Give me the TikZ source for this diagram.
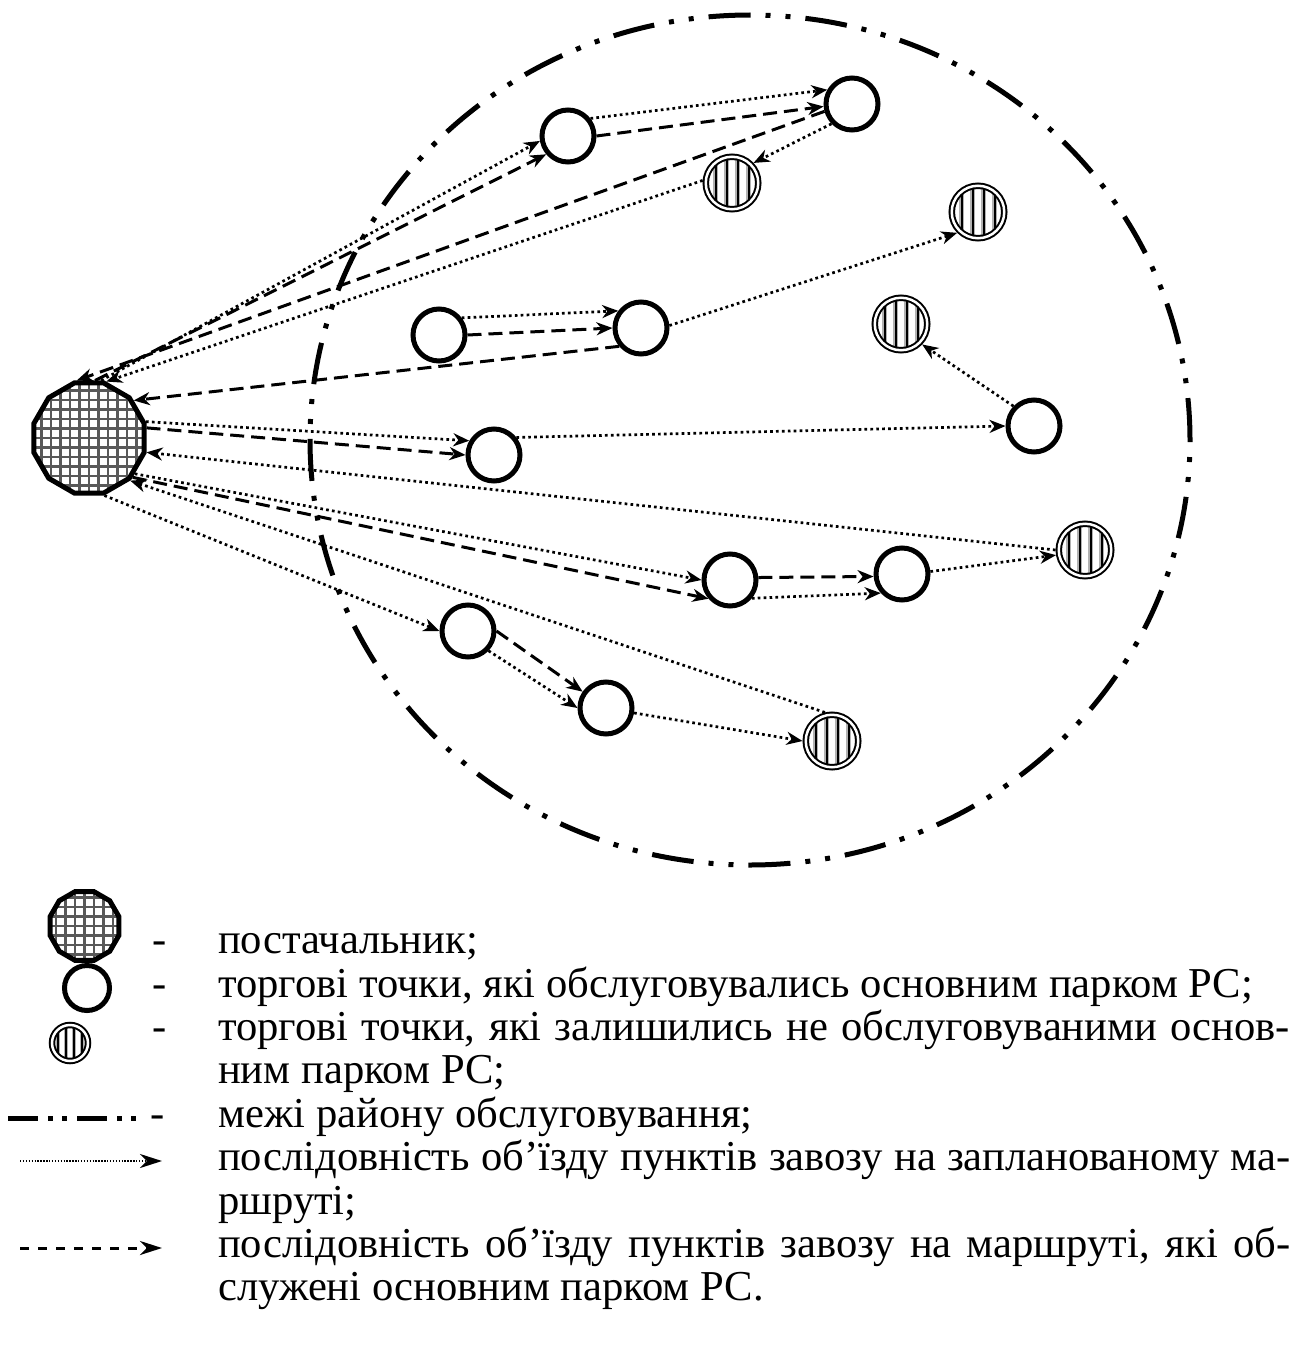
\documentclass[tikz,border=0pt]{standalone}
\usepackage{fontspec}
\setmainfont{Liberation Serif}
\usetikzlibrary{arrows.meta,shapes.geometric}
\begin{document}
\begin{tikzpicture}[x=1pt,y=-1pt,
  gridfill/.style={path picture={
     \foreach \k in {-7,...,7}{
       \draw[black!65,line width=2.4pt]
         ([xshift=\k*9.5pt]path picture bounding box.north) -- ([xshift=\k*9.5pt]path picture bounding box.south);
       \draw[black!65,line width=2.4pt]
         ([yshift=\k*9.5pt]path picture bounding box.west) -- ([yshift=\k*9.5pt]path picture bounding box.east);
     }}},
  supplier/.style={regular polygon, regular polygon sides=12, draw, line width=5pt,
     inner sep=0pt, minimum size=#1, fill=white, gridfill},
  svc/.style={circle, draw, line width=5pt, inner sep=0pt, minimum size=#1, fill=white},
  stripes/.style={path picture={
     \foreach \k in {-1.5,-0.5,0.5,1.5}{
       \draw[black!30,line width=4.5pt]
         ([xshift=\k*#1]path picture bounding box.north) -- ([xshift=\k*#1]path picture bounding box.south);
       \draw[black,line width=2pt]
         ([xshift=\k*#1]path picture bounding box.north) -- ([xshift=\k*#1]path picture bounding box.south);
     }}},
  unsvc/.style 2 args={circle, draw, line width=2pt, double=white, double distance=2.5pt,
     inner sep=0pt, outer sep=3.2pt, minimum size=#1, fill=white, stripes=#2},
  plan/.style={line width=2.7pt, dash pattern=on 2.7pt off 3.2pt,
     -{Stealth[length=16pt,width=13pt,inset=5pt]}},
  fact/.style={line width=3pt, dash pattern=on 14pt off 7pt,
     -{Stealth[length=16pt,width=13pt,inset=5pt]}},
  boundary/.style={line width=5pt, dash pattern=on 42pt off 15pt on 5pt off 15pt on 5pt off 15pt},
  lplan/.style={line width=2.6pt, dash pattern=on 1.4pt off 1.5pt,
     -{Stealth[length=22pt,width=14pt,inset=7pt]}},
  lfact/.style={line width=3pt, dash pattern=on 9pt off 9pt,
     -{Stealth[length=22pt,width=14pt,inset=7pt]}},
  lbound/.style={line width=5pt, dash pattern=on 30pt off 10pt on 5pt off 9pt on 5pt off 10pt},
  txt/.style={anchor=base west, inner sep=0pt, font=\fontsize{42.6}{43.4}\selectfont},
  hy/.style={anchor=base, inner sep=0pt, font=\fontsize{42.6}{43.4}\selectfont}
]
\useasboundingbox (0,0) rectangle (1306,1354);

% service area boundary
\draw[boundary] (750,440) ellipse [x radius=440pt, y radius=425pt];

% nodes
\node[supplier=113.9pt] (S) at (89,438) {};
\node[svc=52pt] (A1) at (568,136) {};
\node[svc=52pt] (A2) at (852,104) {};
\node[svc=52pt] (A3) at (439,335) {};
\node[svc=52pt] (A4) at (641,328) {};
\node[svc=52pt] (A5) at (494,455) {};
\node[svc=52pt] (A6) at (1034,426) {};
\node[svc=52pt] (A7) at (730,580) {};
\node[svc=52pt] (A8) at (902,574) {};
\node[svc=52pt] (A9) at (468,631) {};
\node[svc=52pt] (A10) at (606,708) {};
\node[unsvc={52.5pt}{11pt}] (H1) at (732,183) {};
\node[unsvc={52.5pt}{11pt}] (H2) at (978,212) {};
\node[unsvc={52.5pt}{11pt}] (H3) at (901,324) {};
\node[unsvc={52.5pt}{11pt}] (H4) at (1085,550) {};
\node[unsvc={52.5pt}{11pt}] (H5) at (832,741) {};

% top route
\draw[plan] (S.78) -- (A1.190);
\draw[fact] (S.84) -- (A1.220);
\draw[plan] (A1.38) -- (A2.150);
\draw[fact] (A1.0) -- (A2.185);
\draw[fact] (A2.195) -- (S.102);
\draw[plan] (A2.224) -- (H1.43);
\draw[plan] (H1.175) -- (S.73);

% middle routes
\draw[plan] (A3.37) -- (A4.143);
\draw[fact] (A3.0) -- (A4.180);
\draw[fact] (A4.220) -- (S.40);
\draw[plan] (A4.5) -- (H2.225);
\draw[plan] (S.16) -- (A5.150);
\draw[fact] (S.10) -- (A5.180);
\draw[plan] (A5.38) -- (A6.180);
\draw[plan] (A6.136) -- (H3.-44);
\draw[plan] (H4.180) -- (S.-14);

% lower routes
\draw[plan] (S.-38) -- (A7.180);
\draw[fact] (S.-42) -- (A7.221);
\draw[fact] (A7.5) -- (A8.185);
\draw[plan] (A7.-40) -- (A8.222);
\draw[plan] (A8.5) -- (H4.190);
\draw[plan] (H5.104) -- (S.-46);
\draw[plan] (S.-75) -- (A9.180);
\draw[fact] (A9.0) -- (A10.145);
\draw[plan] (A9.-44) -- (A10.180);
\draw[plan] (A10.-10) -- (H5.180);

% legend symbols
\node[supplier=71.4pt] (LS) at (84.5,926) {};
\node[svc=45pt] (LA) at (87,988) {};
\node[unsvc={36pt}{8pt}] (LH) at (70,1043) {};
\coordinate (LB1) at (8,1118);  \coordinate (LB2) at (138,1118);
\coordinate (LP1) at (20,1161);  \coordinate (LP2) at (162,1161);
\coordinate (LF1) at (20,1248);  \coordinate (LF2) at (162,1248);
\draw[lbound] (LB1) -- (LB2);
\draw[lplan] (LP1) -- (LP2);
\draw[lfact] (LF1) -- (LF2);

% legend hyphens
\node[hy] (h1) at (160,953.7) {-};
\node[hy] (h2) at (160,997.1) {-};
\node[hy] (h3) at (160,1040.5) {-};
\node[hy] (h4) at (158,1127.3) {-};

% legend texts
\node[txt] (t1) at (218,953.7) {постачальник;};
\node[txt] (t2) at (218,997.1) {торгові точки, які обслуговувались основним парком РС;};
\node[txt] (t3) at (218,1040.5) {\makebox[1072pt][s]{торгові точки, які залишились не обслуговуваними основ-}};
\node[txt] (t3b) at (218,1083.9) {ним парком РС;};
\node[txt] (t4) at (218,1127.3) {межі району обслуговування;};
\node[txt] (t5) at (218,1170.7) {\makebox[1072pt][s]{послідовність об’їзду пунктів завозу на запланованому ма-}};
\node[txt] (t5b) at (218,1214.1) {ршруті;};
\node[txt] (t6) at (218,1257.5) {\makebox[1072pt][s]{послідовність об’їзду пунктів завозу на маршруті, які об-}};
\node[txt] (t6b) at (218,1300.9) {служені основним парком РС.};
\end{tikzpicture}
\end{document}
